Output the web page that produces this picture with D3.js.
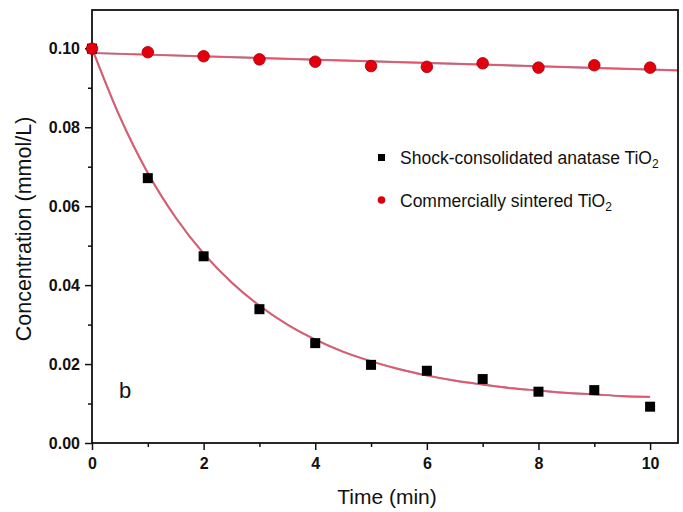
<!DOCTYPE html>
<html>
<head>
<meta charset="utf-8">
<script src="https://cdn.jsdelivr.net/npm/d3@7"></script>
<style>
  body { margin: 0; background: #fff; }
  text { font-family: "Liberation Sans", Arial, sans-serif; fill: #111; }
</style>
</head>
<body>
<div id="chart"></div>
<script>
// measured time points (min)
const times = [0, 1, 2, 3, 4, 5, 6, 7, 8, 9, 10];
// Shock-consolidated anatase TiO2
const shockValues = [0.0999, 0.0671, 0.0473, 0.0339, 0.0253, 0.0198, 0.0183, 0.0162, 0.0130, 0.0134, 0.0092];
// Commercially sintered TiO2
const commercialValues = [0.0999, 0.0990, 0.0980, 0.0972, 0.0966, 0.0955, 0.0953, 0.0962, 0.0951, 0.0957, 0.0951];

// fitted curves
const shockFitTimes = [0, 0.5, 1, 1.5, 2, 2.5, 3, 3.5, 4, 4.5, 5, 5.5, 6, 6.5, 7, 7.5, 8, 8.5, 9, 9.5, 10];
const shockFitValues = [0.1000, 0.0826, 0.0684, 0.0571, 0.0480, 0.0407, 0.0348, 0.0300, 0.0262, 0.0231, 0.0207,
                        0.0187, 0.0171, 0.0158, 0.0148, 0.0139, 0.0133, 0.0127, 0.0123, 0.0119, 0.0117];
const commercialFitTimes = [0, 10.5];
const commercialFitValues = [0.0988, 0.0944];

const xTicks = [0, 2, 4, 6, 8, 10];
const xMinorTicks = [1, 3, 5, 7, 9];
const yTicks = [0, 0.02, 0.04, 0.06, 0.08, 0.10];
const yMinorTicks = [0.01, 0.03, 0.05, 0.07, 0.09];

const legendLabels = ["Shock-consolidated anatase TiO", "Commercially sintered TiO"];

const width = 683, height = 512;
const margin = { top: 10, right: 5, bottom: 69, left: 92 };

const svg = d3.select("#chart").append("svg")
    .attr("width", width)
    .attr("height", height);

const x = d3.scaleLinear().domain([0, 10.5]).range([margin.left, width - margin.right]);
const y = d3.scaleLinear().domain([0, 0.1097]).range([height - margin.bottom, margin.top]);

// fit lines
const line = d3.line().x(d => x(d[0])).y(d => y(d[1])).curve(d3.curveMonotoneX);
const shockFit = shockFitTimes.map((t, i) => [t, shockFitValues[i]]);
const commercialFit = commercialFitTimes.map((t, i) => [t, commercialFitValues[i]]);

[shockFit, commercialFit].forEach(pts => {
    svg.append("path").datum(pts)
        .attr("d", line)
        .attr("fill", "none")
        .attr("stroke", "#5a2a3c")
        .attr("stroke-opacity", 0.45)
        .attr("stroke-width", 2.2);
    svg.append("path").datum(pts)
        .attr("d", line)
        .attr("fill", "none")
        .attr("stroke", "#e2566f")
        .attr("stroke-width", 1.7);
});

// axes
const xAxis = d3.axisBottom(x).tickValues(xTicks).tickSize(7).tickFormat(d3.format("d"));
const yAxis = d3.axisLeft(y).tickValues(yTicks).tickSize(7).tickFormat(d3.format(".2f"));

const gx = svg.append("g")
    .attr("transform", "translate(0," + (height - margin.bottom) + ")")
    .call(xAxis);
const gy = svg.append("g")
    .attr("transform", "translate(" + margin.left + ",0)")
    .call(yAxis);

svg.append("g")
    .attr("transform", "translate(0," + (height - margin.bottom) + ")")
    .call(d3.axisBottom(x).tickValues(xMinorTicks).tickSize(4).tickFormat(""))
    .select(".domain").remove();
svg.append("g")
    .attr("transform", "translate(" + margin.left + ",0)")
    .call(d3.axisLeft(y).tickValues(yMinorTicks).tickSize(4).tickFormat(""))
    .select(".domain").remove();

svg.selectAll(".domain").remove();
svg.selectAll(".tick line").attr("stroke", "#111").attr("stroke-width", 1.5);
svg.selectAll(".tick text")
    .style("font-size", "16px")
    .style("font-weight", "bold")
    .style("font-family", "'Liberation Sans', Arial, sans-serif")
    .attr("fill", "#111");
gx.selectAll(".tick text").attr("dy", "1.0em");
gy.selectAll(".tick text").attr("x", -12);

// frame
svg.append("rect")
    .attr("x", margin.left)
    .attr("y", margin.top)
    .attr("width", width - margin.right - margin.left)
    .attr("height", height - margin.bottom - margin.top)
    .attr("fill", "none")
    .attr("stroke", "#111")
    .attr("stroke-width", 1.8);

// points
const sz = 10;
svg.selectAll("rect.shock")
    .data(times)
    .enter()
    .append("rect")
    .attr("class", "shock")
    .attr("x", (d, i) => x(d) - sz / 2)
    .attr("y", (d, i) => y(shockValues[i]) - sz / 2)
    .attr("width", sz)
    .attr("height", sz)
    .attr("fill", "#000");

svg.selectAll("circle.comm")
    .data(times)
    .enter()
    .append("circle")
    .attr("class", "comm")
    .attr("cx", d => x(d))
    .attr("cy", (d, i) => y(commercialValues[i]))
    .attr("r", 5.8)
    .attr("fill", "#e3000b")
    .attr("stroke", "#a00010")
    .attr("stroke-width", 0.8);

// legend
const legend = svg.append("g");
legend.append("rect")
    .attr("x", 378).attr("y", 154)
    .attr("width", 7).attr("height", 7)
    .attr("fill", "#000");
legend.append("circle")
    .attr("cx", 381.5).attr("cy", 200)
    .attr("r", 3.8)
    .attr("fill", "#d8000a");

legendLabels.forEach((lab, i) => {
    const t = legend.append("text")
        .attr("x", 400)
        .attr("y", 164 + i * 43)
        .style("font-size", "17.5px");
    t.append("tspan").text(lab);
    t.append("tspan").text("2").attr("dy", 4).style("font-size", "12px");
});

// panel letter
svg.append("text")
    .attr("x", 119).attr("y", 398)
    .style("font-size", "22px")
    .text("b");

// axis titles
svg.append("text")
    .attr("x", 387)
    .attr("y", 504)
    .attr("text-anchor", "middle")
    .style("font-size", "21px")
    .text("Time (min)");

svg.append("text")
    .attr("transform", "translate(31," + 229 + ") rotate(-90)")
    .attr("text-anchor", "middle")
    .style("font-size", "21.5px")
    .text("Concentration (mmol/L)");
</script>
</body>
</html>
